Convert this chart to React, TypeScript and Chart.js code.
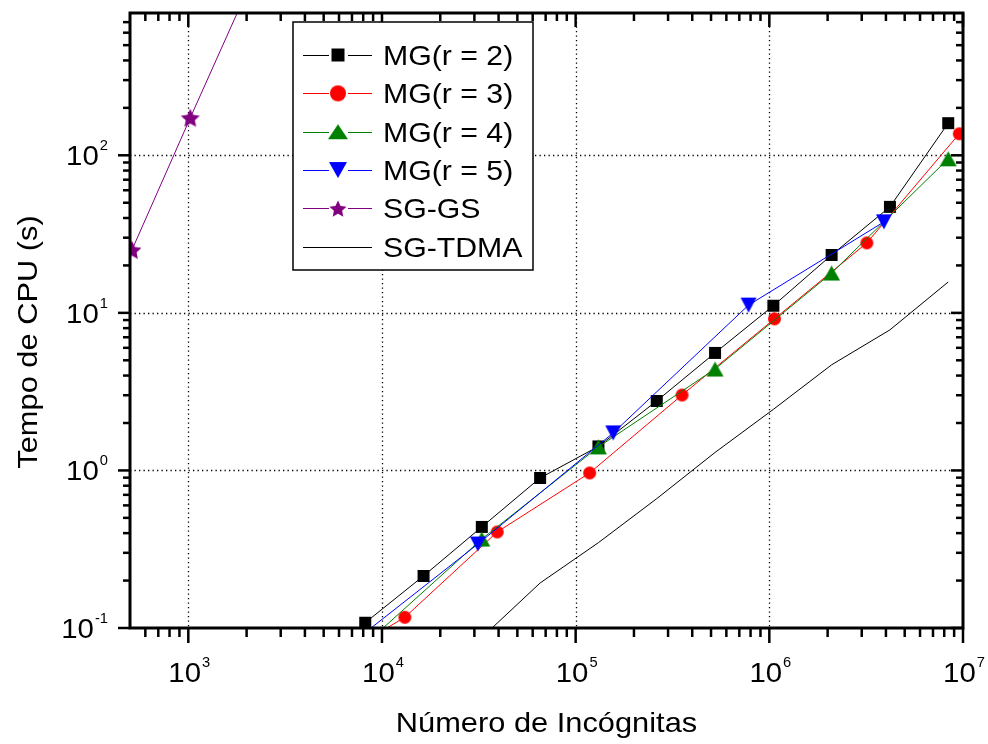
import React, { useEffect, useRef } from "react";
import { Chart, registerables } from "chart.js";

Chart.register(...registerables);

// ---------- data ----------
const mg2X = [8192, 16384, 32768, 65536, 131072, 262144, 524288, 1048576, 2097152, 4194304, 8388608];
const mg2Y = [0.108, 0.214, 0.438, 0.896, 1.42, 2.76, 5.57, 11.1, 23.3, 47.1, 160];
const mg3X = [4374, 13122, 39366, 118098, 354294, 1062882, 3188646, 9565938];
const mg3Y = [0.052, 0.117, 0.407, 0.964, 3.01, 9.16, 27.8, 137];
const mg4X = [8192, 32768, 131072, 524288, 2097152, 8388608];
const mg4Y = [0.079, 0.367, 1.41, 4.4, 17.9, 95];
const mg5X = [6250, 31250, 156250, 781250, 3906250];
const mg5Y = [0.072, 0.341, 1.73, 11.2, 37.8];
const gsX = [512, 1024, 2048];
const gsY = [25.1, 173, 1160];
const tdmaX = [32768, 65536, 131072, 262144, 524288, 1048576, 2097152, 4194304, 8388608];
const tdmaY = [0.087, 0.193, 0.348, 0.662, 1.3, 2.44, 4.68, 7.8, 15.7];

const seriesNames = ["MG(r = 2)", "MG(r = 3)", "MG(r = 4)", "MG(r = 5)", "SG-GS", "SG-TDMA"];
const seriesColors = ["#000000", "#ff0000", "#008000", "#0000ff", "#800080", "#000000"];
const seriesMarkers = ["square", "circle", "up", "down", "star", "none"];

const xTickExps = [3, 4, 5, 6, 7];
const yTickExps = [-1, 0, 1, 2];
const xGridExps = [3, 4, 5, 6];
const yGridExps = [0, 1, 2];

const xTitle = "Número de Incógnitas";
const yTitle = "Tempo de CPU (s)";

const X_MIN = 500;
const X_MAX = 1e7;
const Y_MIN = 0.1;
const Y_MAX = 800;

const FONT = '"Liberation Sans", Arial, Helvetica, sans-serif';

// ---------- marker images ----------
function markerCanvas(kind: string, color: string, w: number, h: number): HTMLCanvasElement {
  const pad = 2;
  const c = document.createElement("canvas");
  c.width = Math.ceil(w) + 2 * pad;
  c.height = Math.ceil(h) + 2 * pad;
  const g = c.getContext("2d") as CanvasRenderingContext2D;
  g.fillStyle = color;
  const cx = c.width / 2;
  const cy = c.height / 2;
  g.beginPath();
  if (kind === "square") {
    g.rect(cx - w / 2, cy - h / 2, w, h);
  } else if (kind === "circle") {
    g.arc(cx, cy, w / 2, 0, Math.PI * 2);
  } else if (kind === "up") {
    g.moveTo(cx, cy - h / 2);
    g.lineTo(cx + w / 2, cy + h / 2);
    g.lineTo(cx - w / 2, cy + h / 2);
    g.closePath();
  } else if (kind === "down") {
    g.moveTo(cx - w / 2, cy - h / 2);
    g.lineTo(cx + w / 2, cy - h / 2);
    g.lineTo(cx, cy + h / 2);
    g.closePath();
  } else if (kind === "star") {
    const ro = w / 2;
    const ri = ro * 0.48;
    for (let i = 0; i < 10; i++) {
      const r = i % 2 === 0 ? ro : ri;
      const a = -Math.PI / 2 + (i * Math.PI) / 5;
      const px = cx + r * Math.cos(a);
      const py = cy + 1 + r * Math.sin(a);
      if (i === 0) g.moveTo(px, py);
      else g.lineTo(px, py);
    }
    g.closePath();
  }
  g.fill();
  return c;
}

const chartMarkerSize: Record<string, [number, number]> = {
  square: [12, 12],
  circle: [13, 13],
  up: [17, 15],
  down: [16, 15],
  star: [20, 19],
};
const legendMarkerSize: Record<string, [number, number]> = {
  square: [13, 13],
  circle: [16, 16],
  up: [20, 15],
  down: [18, 16],
  star: [18, 17],
};

// ---------- text helpers ----------
function drawText(
  ctx: CanvasRenderingContext2D,
  text: string,
  x: number,
  y: number,
  size: number,
  align: CanvasTextAlign,
  sx: number,
  rot = 0
) {
  ctx.save();
  ctx.translate(x, y);
  if (rot) ctx.rotate(rot);
  ctx.scale(sx, 1);
  ctx.font = `${size}px ${FONT}`;
  ctx.textAlign = align;
  ctx.textBaseline = "alphabetic";
  ctx.fillStyle = "#000";
  ctx.fillText(text, 0, 0);
  ctx.restore();
}

function powerLabelWidth(ctx: CanvasRenderingContext2D, exp: string, sx: number) {
  ctx.font = `28px ${FONT}`;
  const w1 = ctx.measureText("10").width * sx;
  ctx.font = `14px ${FONT}`;
  const w2 = ctx.measureText(exp).width * sx;
  return [w1, w2];
}

function drawPowerLabel(ctx: CanvasRenderingContext2D, exp: string, left: number, baseline: number, sx: number) {
  const [w1] = powerLabelWidth(ctx, exp, sx);
  drawText(ctx, "10", left, baseline, 28, "left", sx);
  drawText(ctx, exp, left + w1 + 1, baseline - 15, 14, "left", sx);
}

function hline(ctx: CanvasRenderingContext2D, x1: number, y: number, x2: number) {
  ctx.beginPath();
  ctx.moveTo(x1, y);
  ctx.lineTo(x2, y);
  ctx.stroke();
}
function vline(ctx: CanvasRenderingContext2D, x: number, y1: number, y2: number) {
  ctx.beginPath();
  ctx.moveTo(x, y1);
  ctx.lineTo(x, y2);
  ctx.stroke();
}

function logTicks(min: number, max: number) {
  const out: { v: number; major: boolean }[] = [];
  const e0 = Math.floor(Math.log10(min));
  const e1 = Math.ceil(Math.log10(max));
  for (let e = e0; e <= e1; e++) {
    for (let m = 1; m <= 9; m++) {
      const v = m * Math.pow(10, e);
      if (v >= min * 0.999 && v <= max * 1.001) out.push({ v, major: m === 1 });
    }
  }
  return out;
}

const framePlugin = {
  id: "frame",
  beforeDatasetsDraw(chart: any) {
    const { ctx, chartArea: a, scales } = chart;
    const xs = scales.x;
    const ys = scales.y;
    ctx.save();
    ctx.strokeStyle = "#000";
    ctx.lineWidth = 1.3;
    ctx.setLineDash([1.3, 3.2]);
    for (const e of xGridExps) {
      const px = Math.round(xs.getPixelForValue(Math.pow(10, e))) + 0.5;
      vline(ctx, px, a.top, a.bottom);
    }
    for (const e of yGridExps) {
      const py = Math.round(ys.getPixelForValue(Math.pow(10, e))) + 0.5;
      hline(ctx, a.left, py, a.right);
    }
    ctx.restore();
  },
  afterDatasetsDraw(chart: any) {
    const { ctx, chartArea: a, scales } = chart;
    const xs = scales.x;
    const ys = scales.y;
    ctx.save();
    ctx.strokeStyle = "#000";
    ctx.lineCap = "butt";

    // ticks
    ctx.lineWidth = 2.5;
    for (const t of logTicks(X_MIN, X_MAX)) {
      const px = xs.getPixelForValue(t.v);
      if (px < a.left + 1 || px > a.right - 1) {
        if (!t.major) continue;
      }
      vline(ctx, px, a.bottom, a.bottom + (t.major ? 15 : 9));
      vline(ctx, px, a.top, a.top + (t.major ? 14 : 8));
    }
    for (const t of logTicks(Y_MIN, Y_MAX)) {
      const py = ys.getPixelForValue(t.v);
      if (py < a.top + 1 || py > a.bottom - 1) {
        if (!t.major) continue;
      }
      hline(ctx, a.left - (t.major ? 12 : 7), py, a.left);
      hline(ctx, a.right - (t.major ? 12 : 7), py, a.right);
    }

    // frame
    ctx.lineWidth = 3;
    ctx.strokeRect(a.left, a.top, a.right - a.left, a.bottom - a.top);

    // tick labels
    const sxT = 1.05;
    for (const e of xTickExps) {
      const px = xs.getPixelForValue(Math.pow(10, e));
      const exp = String(e);
      const [w1, w2] = powerLabelWidth(ctx, exp, sxT);
      const total = w1 + 1 + w2;
      drawPowerLabel(ctx, exp, px - total / 2 + 1, a.bottom + 54, sxT);
    }
    for (const e of yTickExps) {
      const py = ys.getPixelForValue(Math.pow(10, e));
      const exp = String(e);
      const [w1, w2] = powerLabelWidth(ctx, exp, sxT);
      const total = w1 + 1 + w2;
      drawPowerLabel(ctx, exp, a.left - 22 - total, py + 10, sxT);
    }

    // axis titles
    drawText(ctx, xTitle, (a.left + a.right) / 2, 732, 28, "center", 1.1);
    drawText(ctx, yTitle, 37, 342, 28, "center", 1.1, -Math.PI / 2);

    // legend
    const bx = 293, by = 22, bw = 240, bh = 248;
    ctx.fillStyle = "#fff";
    ctx.fillRect(bx, by, bw, bh);
    ctx.lineWidth = 1.5;
    ctx.strokeRect(bx, by, bw, bh);
    for (let i = 0; i < seriesNames.length; i++) {
      const ry = 55 + i * 38.35;
      const color = seriesColors[i];
      const kind = seriesMarkers[i];
      ctx.strokeStyle = color;
      ctx.lineWidth = 1;
      if (kind === "none") {
        hline(ctx, 303, Math.round(ry) + 0.5, 372);
      } else {
        hline(ctx, 303, Math.round(ry) + 0.5, 329);
        hline(ctx, 348, Math.round(ry) + 0.5, 372);
        const [w, h] = legendMarkerSize[kind];
        const img = markerCanvas(kind, color, w, h);
        ctx.drawImage(img, 338 - img.width / 2, ry - img.height / 2);
      }
      drawText(ctx, seriesNames[i], 383, ry + 10, 28, "left", 1.08);
    }
    ctx.restore();
  },
};

function toPoints(xs: number[], ys: number[]) {
  return xs.map((x, i) => ({ x, y: ys[i] }));
}

export default function App() {
  const ref = useRef<HTMLCanvasElement | null>(null);

  useEffect(() => {
    if (!ref.current) return;
    const seriesX = [mg2X, mg3X, mg4X, mg5X, gsX, tdmaX];
    const seriesY = [mg2Y, mg3Y, mg4Y, mg5Y, gsY, tdmaY];
    const datasets = seriesNames.map((name, i) => {
      const kind = seriesMarkers[i];
      const color = seriesColors[i];
      let pointStyle: any = false;
      let radius = 0;
      if (kind !== "none") {
        const [w, h] = chartMarkerSize[kind];
        pointStyle = markerCanvas(kind, color, w, h);
        radius = 6;
      }
      return {
        label: name,
        data: toPoints(seriesX[i], seriesY[i]),
        borderColor: color,
        backgroundColor: color,
        borderWidth: 1,
        pointStyle,
        pointRadius: radius,
        pointHoverRadius: radius,
        tension: 0,
        fill: false,
        order: seriesNames.length - i,
      };
    });
    const chart = new Chart(ref.current, {
      type: "line",
      data: { datasets },
      options: {
        animation: false,
        responsive: false,
        events: [],
        layout: { padding: { left: 130, right: 25, top: 13, bottom: 116 } },
        plugins: { legend: { display: false }, tooltip: { enabled: false } },
        scales: {
          x: { type: "logarithmic", min: X_MIN, max: X_MAX, display: false },
          y: { type: "logarithmic", min: Y_MIN, max: Y_MAX, display: false },
        },
      },
      plugins: [framePlugin],
    } as any);
    return () => chart.destroy();
  }, []);

  return (
    <div style={{ position: "absolute", left: 0, top: 0, width: 988, height: 744, background: "#fff" }}>
      <canvas ref={ref} width={988} height={744} style={{ display: "block" }} />
    </div>
  );
}
